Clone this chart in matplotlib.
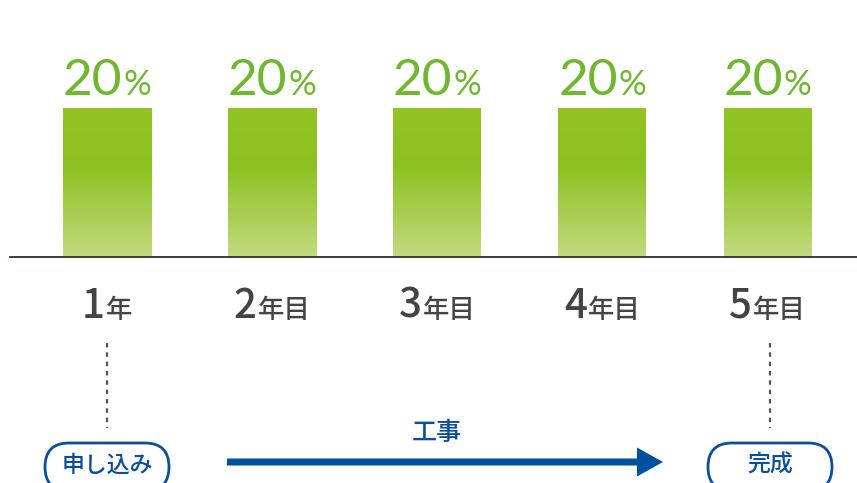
import matplotlib
matplotlib.use("Agg")
import matplotlib.pyplot as plt
import numpy as np
from matplotlib.colors import LinearSegmentedColormap
from matplotlib.patches import FancyBboxPatch, FancyArrow

plt.rcParams['font.family'] = ['Noto Sans CJK JP', 'DejaVu Sans']

# ---- data ----
categories_num = ["1", "2", "3", "4", "5"]
categories_suffix = ["年", "年目", "年目", "年目", "年目"]
values = [20, 20, 20, 20, 20]
value_labels = ["20", "20", "20", "20", "20"]
start_label = "申し込み"
end_label = "完成"
phase_label = "工事"

W, H = 857, 483
fig = plt.figure(figsize=(W / 100, H / 100), dpi=100)

# bar axes: y=0 at pixel 257 from top
base_px = 257
ax = fig.add_axes([10 / W, (H - base_px) / H, (W - 10) / W, base_px / H])
spacing = 165.125
x0 = 107
ax.set_xlim((10 - x0) / spacing, (W - x0) / spacing)
ax.set_ylim(0, 20 * base_px / 149)
for s in ['top', 'right', 'left']:
    ax.spines[s].set_visible(False)
ax.spines['bottom'].set_color('#3a2b2b')
ax.spines['bottom'].set_linewidth(1.3)
ax.set_xticks([])
ax.set_yticks([])
ax.patch.set_alpha(0)

bw = 88 / spacing
bars = ax.bar(range(len(values)), values, width=bw, color='none', edgecolor='none')
cmap = LinearSegmentedColormap.from_list(
    'g', [(0, '#c3da80'), (0.62, '#8bc11f'), (1.0, '#92c424')])
grad = np.linspace(0, 1, 256).reshape(-1, 1)
for b in bars:
    x, y, w, h = b.get_x(), b.get_y(), b.get_width(), b.get_height()
    im = ax.imshow(grad, cmap=cmap, extent=[x, x + w, y, y + h], origin='lower',
                   aspect='auto', zorder=2)
    im.set_clip_path(b)
ax.set_xlim((10 - x0) / spacing, (W - x0) / spacing)
ax.set_ylim(0, 20 * base_px / 149)

# overlay axes in pixel coordinates
ov = fig.add_axes([0, 0, 1, 1], zorder=5)
ov.set_xlim(0, W)
ov.set_ylim(H, 0)
ov.axis('off')
ov.patch.set_alpha(0)

fig.canvas.draw()
renderer = fig.canvas.get_renderer()


def to_px(xd, yd):
    disp = ax.transData.transform((xd, yd))
    return ov.transData.inverted().transform(disp)


def mixed(xc, ybase, parts, gap=0):
    texts = []
    for s, size, kw in parts:
        t = ov.text(0, ybase, s, fontsize=size, ha='left', va='baseline', **kw)
        texts.append(t)
    widths = [t.get_window_extent(renderer).width for t in texts]
    total = sum(widths) + gap * (len(texts) - 1)
    x = xc - total / 2
    for t, w in zip(texts, widths):
        t.set_x(x)
        x += w + gap


green_txt = '#6db82c'
gray_txt = '#444444'
for i, (v, lab) in enumerate(zip(values, value_labels)):
    xc, ytop = to_px(i, v)
    mixed(xc, ytop - 13, [(lab, 37, dict(color=green_txt, family=['Lato', 'DejaVu Sans'])),
                          ("%", 25, dict(color=green_txt, family=['Lato', 'DejaVu Sans']))], gap=1)
    mixed(xc, 318, [(categories_num[i], 29, dict(color=gray_txt, weight='medium')),
                    (categories_suffix[i], 19, dict(color=gray_txt, weight='medium'))], gap=1)

blue = '#0a4f9f'
# dashed connectors
for i in [0, len(values) - 1]:
    xc, _ = to_px(i, 0)
    xc = xc + (2.5 if i else 0)
    ov.plot([xc, xc], [343, 428], color='#555555', lw=1.6, ls=(0, (2, 2.2)))

# pills
def pill(xc, s):
    w, h = 124, 48
    p = FancyBboxPatch((xc - w / 2, 443), w, h,
                       boxstyle="round,pad=0,rounding_size=24",
                       fc='white', ec=blue, lw=2.0, clip_on=False)
    ov.add_patch(p)
    ov.text(xc, 465, s, fontsize=16.5, color=blue, weight='medium', ha='center', va='center')

xs, _ = to_px(0, 0)
xe, _ = to_px(len(values) - 1, 0)
pill(xs, start_label)
pill(xe + 2.5, end_label)

# arrow
ov.add_patch(FancyArrow(227, 462, 663 - 227, 0, width=7, head_width=29, head_length=26,
                        length_includes_head=True, color='#0050a0', lw=0))
ov.text(437, 433, phase_label, fontsize=18, color=blue, weight='medium', ha='center', va='center')

fig.savefig('out.png', dpi=100)
